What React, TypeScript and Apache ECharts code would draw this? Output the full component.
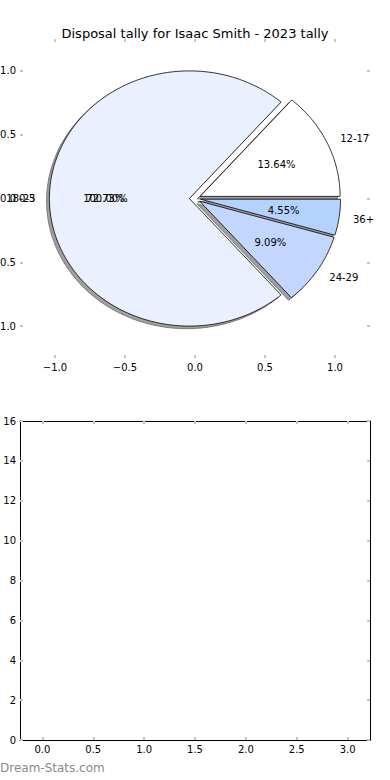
import React, { useEffect, useRef } from 'react';
import * as echarts from 'echarts';

const chartTitle = 'Disposal tally for Isaac Smith - 2023 tally';
const categories = ['12-17', '18-23', '24-29', '36+'];
const values = [3, 16, 2, 1];
const sliceColors = ['#ffffff', '#eaf0fd', '#c3d7fe', '#b3d3fe'];
const explode = [0.04, 0.04, 0.04, 0.04];
// a second, overprinted label set visible at the left in the reference
const ghostCategories = ['0-5'];
const ghostValues = [1];
const pieTicks = [-1.0, -0.5, 0.0, 0.5, 1.0];
const barXTicks = [0, 0.5, 1, 1.5, 2, 2.5, 3];
const watermark = 'Dream-Stats.com';

const FONT = 'DejaVu Sans';

const total = values.reduce((a, b) => a + b, 0);
const starts: number[] = [];
const ends: number[] = [];
{
  let acc = 0;
  values.forEach((v) => {
    starts.push((acc / total) * 360);
    acc += v;
    ends.push((acc / total) * 360);
  });
}
const ghostTotal = ghostValues.reduce((a, b) => a + b, 0);

const fmt1 = (v: number) => (v < 0 ? '\u2212' : '') + Math.abs(v).toFixed(1);

function labelTexts(api: any, cx: number, cy: number, mid: number, label: string, pct: string) {
  const lp = api.coord([cx + 1.1 * Math.cos(mid), cy + 1.1 * Math.sin(mid)]);
  const pp = api.coord([cx + 0.6 * Math.cos(mid), cy + 0.6 * Math.sin(mid)]);
  return [
    {
      type: 'text',
      x: lp[0],
      y: lp[1],
      style: {
        text: label,
        fill: '#000',
        fontSize: 10,
        fontFamily: FONT,
        align: Math.cos(mid) > 0 ? 'left' : 'right',
        verticalAlign: 'middle',
      },
    },
    {
      type: 'text',
      x: pp[0],
      y: pp[1],
      style: {
        text: pct,
        fill: '#000',
        fontSize: 10,
        fontFamily: FONT,
        align: 'center',
        verticalAlign: 'middle',
      },
    },
  ];
}

function wedge(params: any, api: any, shadow: boolean) {
  const i = params.dataIndex;
  const t1 = starts[i];
  const t2 = ends[i];
  const mid = ((t1 + t2) / 2) * Math.PI / 180;
  const e = explode[i];
  let cx = e * Math.cos(mid);
  let cy = e * Math.sin(mid);
  if (shadow) {
    cx -= 0.02;
    cy -= 0.02;
  }
  const pts: number[][] = [api.coord([cx, cy])];
  const n = Math.max(2, Math.ceil(t2 - t1));
  for (let k = 0; k <= n; k++) {
    const a = (t1 + ((t2 - t1) * k) / n) * Math.PI / 180;
    pts.push(api.coord([cx + Math.cos(a), cy + Math.sin(a)]));
  }
  if (shadow) {
    return {
      type: 'polygon',
      shape: { points: pts },
      style: { fill: '#a0a0a0', stroke: '#7a7a7a', lineWidth: 1 },
    };
  }
  const pct = ((values[i] / total) * 100).toFixed(2) + '%';
  return {
    type: 'group',
    children: [
      {
        type: 'polygon',
        shape: { points: pts },
        style: { fill: sliceColors[i], stroke: '#000', lineWidth: 0.8 },
      },
      ...labelTexts(api, cx, cy, mid, categories[i], pct),
    ],
  };
}

function ghost(params: any, api: any) {
  const i = params.dataIndex;
  let acc = 0;
  for (let k = 0; k < i; k++) acc += ghostValues[k];
  const t1 = (acc / ghostTotal) * 360;
  const t2 = ((acc + ghostValues[i]) / ghostTotal) * 360;
  const mid = ((t1 + t2) / 2) * Math.PI / 180;
  const e = explode[0];
  const cx = e * Math.cos(mid);
  const cy = e * Math.sin(mid);
  const pct = ((ghostValues[i] / ghostTotal) * 100).toFixed(2) + '%';
  return { type: 'group', children: labelTexts(api, cx, cy, mid, ghostCategories[i], pct) };
}

const tickStyle = { color: '#c4c4c4', width: 2 };
const labelStyle = { fontSize: 10, fontFamily: FONT, color: '#000' };

export default function App() {
  const ref = useRef<HTMLDivElement>(null);
  useEffect(() => {
    if (!ref.current) return;
    const chart = echarts.init(ref.current, undefined, { renderer: 'svg' });
    const pieData = values.map((v, i) => [i, v]);
    const ghostData = ghostValues.map((v, i) => [i, v]);
    chart.setOption({
      animation: false,
      backgroundColor: '#ffffff',
      title: {
        text: chartTitle,
        left: 'center',
        top: 22,
        textStyle: { fontSize: 13, fontWeight: 'normal', fontFamily: FONT, color: '#000' },
      },
      graphic: [
        {
          type: 'text',
          left: 0,
          top: 762,
          style: { text: watermark, fill: '#8a8a8a', fontSize: 12, fontFamily: FONT },
        },
      ],
      grid: [
        { left: 20, top: 39, width: 350, height: 319, outerBoundsMode: 'none' },
        { left: 20, top: 421, width: 350, height: 319, outerBoundsMode: 'none' },
      ],
      xAxis: [
        {
          gridIndex: 0, type: 'value', position: 'bottom', min: -1.25, max: 1.25,
          axisLine: { show: false, onZero: false },
          axisTick: { show: true, inside: true, length: 3, lineStyle: tickStyle, customValues: pieTicks },
          axisLabel: { ...labelStyle, margin: 4, customValues: pieTicks, formatter: fmt1 },
          splitLine: { show: false },
        },
        {
          gridIndex: 0, type: 'value', position: 'top', min: -1.25, max: 1.25,
          axisLine: { show: false, onZero: false },
          axisTick: { show: true, inside: true, length: 3, lineStyle: tickStyle, customValues: pieTicks },
          axisLabel: { show: false },
          splitLine: { show: false },
        },
        {
          gridIndex: 1, type: 'value', position: 'bottom', min: -0.22, max: 3.22,
          axisLine: { show: true, onZero: false, lineStyle: { color: '#000', width: 1 } },
          axisTick: { show: true, inside: true, length: 3, lineStyle: tickStyle, customValues: barXTicks },
          axisLabel: { ...labelStyle, margin: 4, customValues: barXTicks, formatter: fmt1 },
          splitLine: { show: false },
        },
        {
          gridIndex: 1, type: 'value', position: 'top', min: -0.22, max: 3.22,
          axisLine: { show: true, onZero: false, lineStyle: { color: '#000', width: 1 } },
          axisTick: { show: true, inside: true, length: 3, lineStyle: tickStyle, customValues: barXTicks },
          axisLabel: { show: false },
          splitLine: { show: false },
        },
      ],
      yAxis: [
        {
          gridIndex: 0, type: 'value', position: 'left', min: -1.25, max: 1.25,
          axisLine: { show: false, onZero: false },
          axisTick: { show: true, inside: true, length: 3, lineStyle: tickStyle, customValues: pieTicks },
          axisLabel: { ...labelStyle, margin: 4, customValues: pieTicks, formatter: fmt1 },
          splitLine: { show: false },
        },
        {
          gridIndex: 0, type: 'value', position: 'right', min: -1.25, max: 1.25,
          axisLine: { show: false, onZero: false },
          axisTick: { show: true, inside: true, length: 3, lineStyle: tickStyle, customValues: pieTicks },
          axisLabel: { show: false },
          splitLine: { show: false },
        },
        {
          gridIndex: 1, type: 'value', position: 'left', min: 0, max: 16, interval: 2,
          axisLine: { show: true, onZero: false, lineStyle: { color: '#000', width: 1 } },
          axisTick: { show: true, inside: true, length: 3, lineStyle: tickStyle },
          axisLabel: { ...labelStyle, margin: 4 },
          splitLine: { show: false },
        },
        {
          gridIndex: 1, type: 'value', position: 'right', min: 0, max: 16, interval: 2,
          axisLine: { show: true, onZero: false, lineStyle: { color: '#000', width: 1 } },
          axisTick: { show: true, inside: true, length: 3, lineStyle: tickStyle },
          axisLabel: { show: false },
          splitLine: { show: false },
        },
      ],
      series: [
        {
          type: 'custom',
          coordinateSystem: 'cartesian2d',
          xAxisIndex: 0,
          yAxisIndex: 0,
          data: pieData,
          encode: { x: 0, y: 1 },
          renderItem: (p: any, api: any) => wedge(p, api, true),
          silent: true,
          z: 1,
        },
        {
          type: 'custom',
          coordinateSystem: 'cartesian2d',
          xAxisIndex: 0,
          yAxisIndex: 0,
          data: pieData,
          encode: { x: 0, y: 1 },
          renderItem: (p: any, api: any) => wedge(p, api, false),
          silent: true,
          z: 2,
        },
        {
          type: 'custom',
          coordinateSystem: 'cartesian2d',
          xAxisIndex: 0,
          yAxisIndex: 0,
          data: ghostData,
          encode: { x: 0, y: 1 },
          renderItem: (p: any, api: any) => ghost(p, api),
          silent: true,
          z: 3,
        },
        {
          type: 'line',
          xAxisIndex: 2,
          yAxisIndex: 2,
          data: [],
        },
      ],
    });
    return () => chart.dispose();
  }, []);
  return (
    <div
      ref={ref}
      style={{ position: 'fixed', left: 0, top: 0, width: 390, height: 780, background: '#fff' }}
    />
  );
}
